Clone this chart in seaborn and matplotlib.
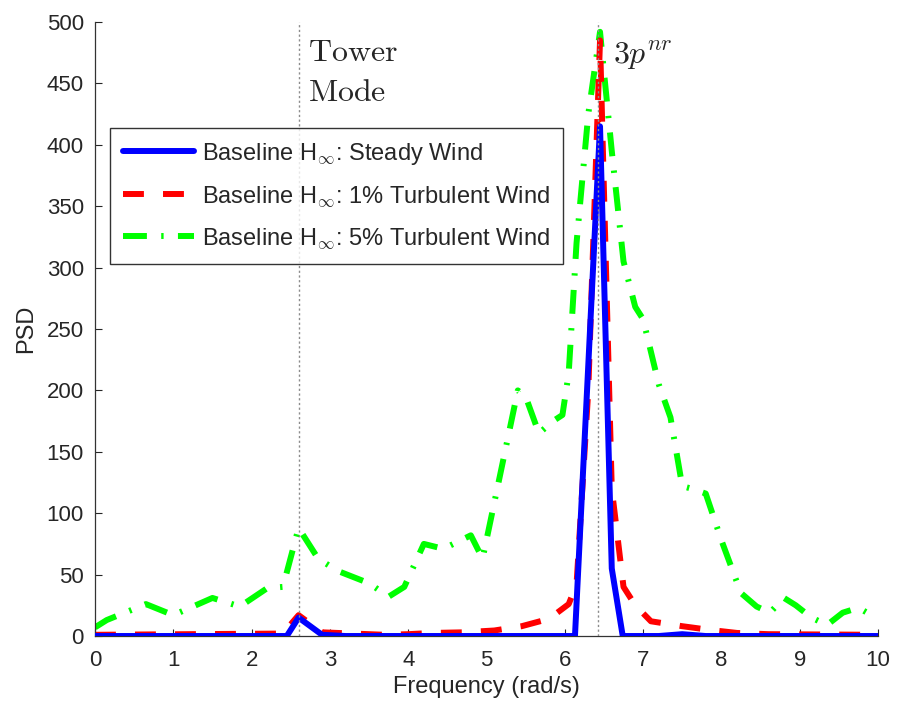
import matplotlib
matplotlib.use("Agg")
import matplotlib.pyplot as plt
import seaborn as sns
import numpy as np

# ---- data ----
steady_x = [0, 2.45, 2.6, 2.9, 3.2, 6.13, 6.45, 6.6, 6.74, 7.2, 7.5, 7.8, 10]
steady_y = [0, 0, 15, 1, 0, 0, 415, 55, 0, 0, 1.5, 0, 0]

turb1_x = [0, 2.4, 2.6, 2.9, 3.3, 3.7, 4.0, 4.3, 4.7, 5.1, 5.45, 5.8, 6.05, 6.15,
           6.3, 6.45, 6.6, 6.75, 6.9, 7.1, 7.5, 7.85, 8.2, 8.6, 10]
turb1_y = [1, 2, 17, 3, 2, 1, 1.5, 2.5, 3, 4.5, 8, 14, 26, 42,
           200, 485, 120, 40, 25, 12, 8, 5, 2.5, 1.5, 1]

turb5_x = [0, 0.15, 0.65, 1.0, 1.5, 1.85, 2.2, 2.4, 2.6, 2.85, 3.1, 3.5, 3.75, 3.95,
           4.2, 4.45, 4.8, 4.95, 5.4, 5.5, 5.67, 5.85, 5.97, 6.05, 6.15, 6.3, 6.45,
           6.6, 6.75, 6.9, 7.0, 7.2, 7.35, 7.5, 7.62, 7.8, 8.0, 8.25, 8.45, 8.62,
           8.8, 8.95, 9.15, 9.35, 9.55, 9.75, 10]
turb5_y = [7, 13, 26, 17, 31, 24, 39, 40, 88, 63, 53, 43, 32, 40,
           75, 71, 82, 63, 200, 195, 165, 175, 180, 214, 320, 425, 492,
           395, 305, 268, 258, 205, 178, 122, 120, 116, 78, 35, 24, 19,
           31, 25, 15, 9, 19, 23, 14]

labels = [r"Baseline H$_\infty$: Steady Wind",
          r"Baseline H$_\infty$: 1% Turbulent Wind",
          r"Baseline H$_\infty$: 5% Turbulent Wind"]
x_ticks = list(range(0, 11))
y_ticks = list(range(0, 501, 50))
tower_freq = 2.6
rotor_freq = 6.43

# ---- style ----
sns.set_style("ticks")
plt.rcParams["font.family"] = ["Liberation Sans", "DejaVu Sans"]
plt.rcParams["mathtext.fontset"] = "cm"

fig = plt.figure(figsize=(8.97, 7.07), dpi=100)
ax = fig.add_axes([0.1059, 0.1004, 0.8729, 0.8685])

sns.lineplot(x=steady_x, y=steady_y, ax=ax, color=(0, 0, 1), lw=4.3,
             label=labels[0], sort=False, zorder=3)
sns.lineplot(x=turb1_x, y=turb1_y, ax=ax, color=(1, 0, 0), lw=4.3,
             label=labels[1], sort=False, zorder=2)
sns.lineplot(x=turb5_x, y=turb5_y, ax=ax, color=(0, 1, 0), lw=4.3,
             label=labels[2], sort=False, zorder=1)

lines = ax.get_lines()
lines[1].set_dashes((3.5, 3.2))
lines[1].set_dash_capstyle("butt")
lines[2].set_dashes((4.0, 2.4, 0.4, 2.4))
lines[2].set_dash_capstyle("butt")

for xv in (tower_freq, rotor_freq):
    ax.axvline(xv, color="#8c8c8c", lw=1.0, linestyle=(0, (1.6, 1.8)), zorder=5)

ax.text(2.72, 468, r"$\mathrm{Tower}$", fontsize=23, ha="left", va="baseline")
ax.text(2.72, 436, r"$\mathrm{Mode}$", fontsize=23, ha="left", va="baseline")
ax.text(6.62, 466, r"$3p^{nr}$", fontsize=23, ha="left", va="baseline")

ax.set_xlim(0, 10)
ax.set_ylim(0, 500)
ax.set_xticks(x_ticks)
ax.set_yticks(y_ticks)
ax.tick_params(direction="in", length=5, width=0.8, labelsize=16, pad=8)
ax.tick_params(axis="x", pad=10)
ax.set_xlabel("Frequency (rad/s)", fontsize=17, labelpad=4)
ax.set_ylabel("PSD", fontsize=17, labelpad=7)
for s in ("top", "right"):
    ax.spines[s].set_visible(False)
for s in ("left", "bottom"):
    ax.spines[s].set_linewidth(0.9)
    ax.spines[s].set_color("#333333")

leg = ax.legend(loc="upper left", bbox_to_anchor=(0.019, 0.828), fontsize=17,
                handlelength=3.0, handletextpad=0.35, labelspacing=0.75,
                borderpad=0.55, frameon=True, fancybox=False, borderaxespad=0)
leg.get_frame().set_edgecolor("black")
leg.get_frame().set_linewidth(1.0)

fig.savefig("out.png", dpi=100)
